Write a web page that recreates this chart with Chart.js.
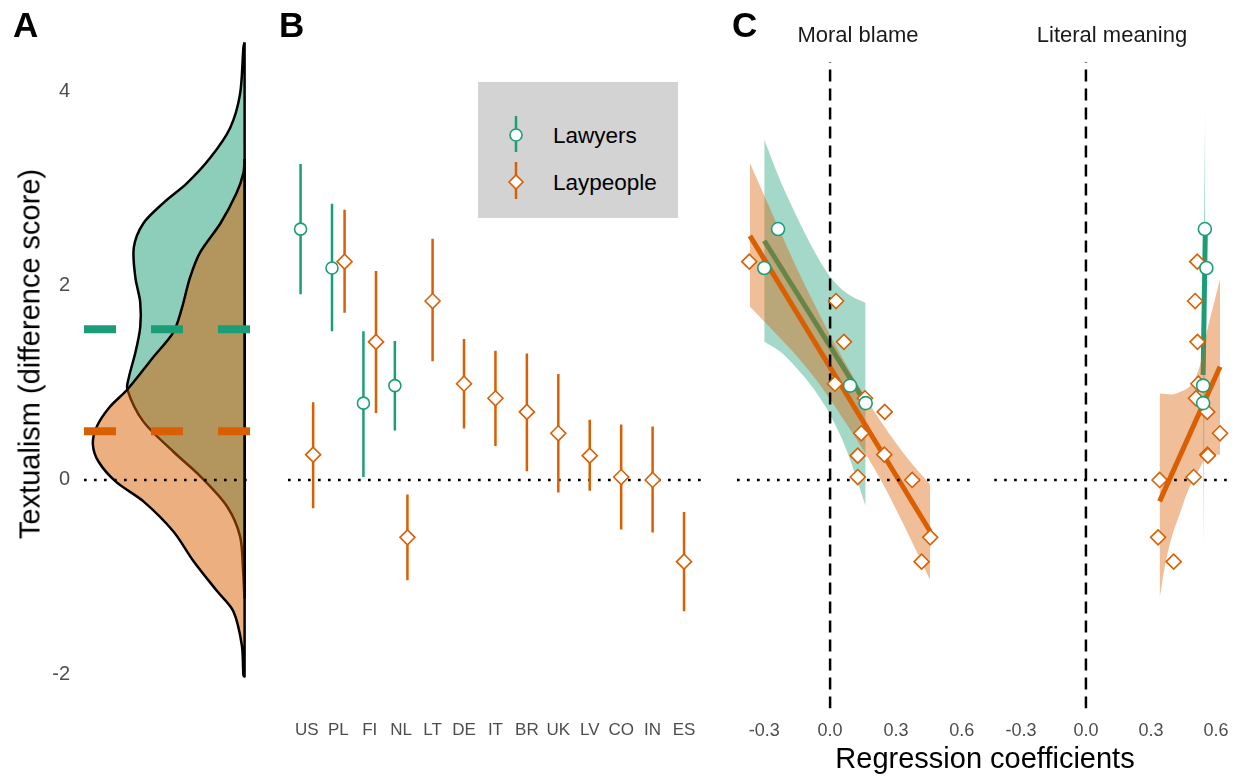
<!DOCTYPE html>
<html lang="en">
<head>
<meta charset="UTF-8">
<title>Textualism</title>
<script src="https://cdn.jsdelivr.net/npm/chart.js"></script>
<style>
  body { margin: 0; background: #fff; font-family: "Liberation Sans", Arial, sans-serif; }
  #wrap { position: relative; width: 1238px; height: 776px; overflow: hidden; }
  canvas { position: absolute; top: 0; }
  .tag { position: absolute; font-weight: bold; font-size: 35px; line-height: 1; color: #000; }
  .txt { position: absolute; line-height: 1; color: #1a1a1a; white-space: nowrap; }
  #legend { position: absolute; left: 478px; top: 82px; width: 200px; height: 136px; background: #d3d3d3; }
</style>
</head>
<body>
<div id="wrap">
  <canvas id="chartA" width="262" height="776" style="left:0"></canvas>
  <canvas id="chartB" width="450" height="776" style="left:262px"></canvas>
  <canvas id="chartC1" width="280" height="776" style="left:715px"></canvas>
  <canvas id="chartC2" width="253" height="776" style="left:985px"></canvas>

  <div class="tag" style="left:13px; top:7px">A</div>
  <div class="tag" style="left:279px; top:7px">B</div>
  <div class="tag" style="left:732px; top:7px">C</div>

  <div class="txt" style="left:30px; top:354px; font-size:29px; color:#000; transform:translate(-50%,-50%) rotate(-90deg)">Textualism (difference score)</div>
  <div class="txt" style="left:858px; top:24px; font-size:22px; transform:translateX(-50%)">Moral blame</div>
  <div class="txt" style="left:1112px; top:24px; font-size:22px; transform:translateX(-50%)">Literal meaning</div>
  <div class="txt" style="left:985px; top:744px; font-size:29px; color:#000; transform:translateX(-50%)">Regression coefficients</div>

  <div id="legend">
    <svg width="200" height="136" style="position:absolute;left:0;top:0">
      <line x1="38" y1="34" x2="38" y2="70" stroke="#1b9e77" stroke-width="2.5"/>
      <circle cx="38" cy="53" r="6" fill="#fff" stroke="#1b9e77" stroke-width="1.6"/>
      <line x1="38" y1="80" x2="38" y2="117" stroke="#d95f02" stroke-width="2.5"/>
      <polygon points="31,100 38,93 45,100 38,107" fill="#fff" stroke="#d95f02" stroke-width="1.6"/>
    </svg>
    <div class="txt" style="left:75px; top:43px; font-size:22.5px; color:#000">Lawyers</div>
    <div class="txt" style="left:75px; top:90px; font-size:22.5px; color:#000">Laypeople</div>
  </div>
</div>

<script>
// ---- data ----
const countries = ['US', 'PL', 'FI', 'NL', 'LT', 'DE', 'IT', 'BR', 'UK', 'LV', 'CO', 'IN', 'ES'];
const yTicks = [-2, 0, 2, 4];
const coefTicks = [-0.3, 0, 0.3, 0.6];

// panel B: country means with intervals
const lawyerCountries = ['US', 'PL', 'FI', 'NL'];
const lawyerMean = [2.58, 2.18, 0.79, 0.97];
const lawyerLo = [1.91, 1.53, 0.03, 0.51];
const lawyerHi = [3.25, 2.84, 1.53, 1.43];

const layMean = [0.26, 2.245, 1.42, -0.59, 1.84, 0.99, 0.84, 0.70, 0.48, 0.25, 0.03, 0.00, -0.84];
const layLo = [-0.29, 1.72, 0.69, -1.03, 1.22, 0.53, 0.35, 0.09, -0.13, -0.11, -0.51, -0.54, -1.35];
const layHi = [0.80, 2.78, 2.15, -0.15, 2.48, 1.45, 1.33, 1.30, 1.09, 0.62, 0.57, 0.55, -0.33];

// panel A: densities (value on y, density width on x)
const lawDensValue = [4.5, 4.45, 3.97, 3.62, 3.31, 3.05, 2.85, 2.64, 2.39, 2.08, 1.83, 1.57, 1.31, 1.06, 0.93, 0.60, 0.29, 0.04, -0.27, -0.58, -0.94, -1.2];
const lawDens = [0, 0.007, 0.028, 0.09, 0.215, 0.36, 0.505, 0.63, 0.69, 0.68, 0.65, 0.65, 0.68, 0.72, 0.73, 0.63, 0.443, 0.277, 0.11, 0.028, 0.009, 0];
const layDensValue = [3.3, 3.16, 2.95, 2.64, 2.34, 2.08, 1.77, 1.52, 1.26, 0.93, 0.75, 0.55, 0.37, 0.19, -0.02, -0.22, -0.53, -0.83, -1.14, -1.35, -1.70, -2.01, -2.02];
const layDens = [0, 0.007, 0.05, 0.15, 0.277, 0.34, 0.39, 0.443, 0.57, 0.73, 0.84, 0.92, 0.945, 0.91, 0.80, 0.63, 0.443, 0.32, 0.173, 0.07, 0.017, 0.007, 0];
const lawyerOverall = 1.55;
const layOverall = 0.50;

// panel C: regression coefficients per country
const blameLawyer = [-0.237, -0.300, 0.162, 0.091];
const literalLawyer = [0.549, 0.556, 0.541, 0.541];
const blameLay = [0.247, -0.368, 0.063, 0.456, 0.027, 0.022, 0.159, 0.249, 0.142, 0.126, 0.126, 0.374, 0.417];
const literalLay = [0.561, 0.514, 0.515, 0.333, 0.504, 0.519, 0.508, 0.560, 0.619, 0.563, 0.497, 0.340, 0.405];

// fitted lines and bands
const blameLawLineX = [-0.300, 0.162], blameLawLineY = [2.46, 0.79];
const blameLawBandX = [-0.300, -0.228, -0.152, -0.076, 0, 0.076, 0.162];
const blameLawBandHi = [3.50, 3.085, 2.71, 2.37, 2.09, 1.92, 1.82];
const blameLawBandLo = [1.42, 1.32, 1.15, 0.94, 0.67, 0.30, -0.27];

const blameLayLineX = [-0.365, 0.456], blameLayLineY = [2.51, -0.53];
const blameLayBandX = [-0.365, -0.25, -0.15, -0.05, 0.05, 0.15, 0.25, 0.35, 0.456];
const blameLayBandHi = [3.26, 2.67, 2.17, 1.71, 1.28, 0.89, 0.54, 0.23, -0.05];
const blameLayBandLo = [1.78, 1.51, 1.27, 0.99, 0.66, 0.31, -0.08, -0.53, -1.03];

const literalLawLineX = [0.541, 0.551], literalLawLineY = [1.08, 2.54];
const literalLawBandX = [0.541, 0.551];
const literalLawBandHi = [1.9, 3.87];
const literalLawBandLo = [-0.70, 1.6];

const literalLayLineX = [0.340, 0.619], literalLayLineY = [-0.22, 1.165];
const literalLayBandX = [0.340, 0.367, 0.397, 0.428, 0.473, 0.504, 0.537, 0.556, 0.595, 0.619];
const literalLayBandHi = [0.89, 0.885, 0.88, 0.90, 0.95, 1.04, 1.27, 1.50, 1.85, 2.07];
const literalLayBandLo = [-1.22, -0.86, -0.58, -0.38, -0.10, 0.03, 0.17, 0.24, 0.26, 0.26];

// ---- styling ----
const GREEN = '#1b9e77', ORANGE = '#d95f02';
const FONT = '"Liberation Sans", Arial, sans-serif';
const Y_MIN = -2.35, Y_MAX_AB = 4.75, Y_MAX_C = 4.30;
const C_MIN = -0.424, C_MAX = 0.66;
const DODGE = 0.2;

Chart.defaults.font.family = FONT;

const fixedTicks = values => scale => { scale.ticks = values.map(v => ({ value: v })); };
const pts = (xs, ys) => xs.map((x, i) => ({ x: x, y: ys[i] }));

function baseOptions(pad, x, y) {
    return {
        responsive: false,
        animation: false,
        events: [],
        layout: { padding: pad },
        plugins: { legend: { display: false }, tooltip: { enabled: false } },
        scales: { x: x, y: y }
    };
}

function hline(x0, x1, y, order) {
    return { data: [{ x: x0, y: y }, { x: x1, y: y }], showLine: true, borderColor: '#000',
             borderWidth: 2.5, borderDash: [2.7, 7.3], pointRadius: 0, order: order };
}

// ---- panel A ----
function densityShape(values, dens, fillColor, order) {
    const data = pts(dens, values);
    data.push({ x: 0, y: values[0] });
    return { data: data, showLine: true, fill: 'shape', backgroundColor: fillColor,
             borderColor: '#000', borderWidth: 2.5, pointRadius: 0, tension: 0.3, order: order };
}
function meanLine(v, color, order) {
    return { data: [{ x: 1.0, y: v }, { x: -0.04, y: v }], showLine: true, borderColor: color,
             borderWidth: 8, borderDash: [32, 35], pointRadius: 0, order: order };
}

new Chart(document.getElementById('chartA'), {
    type: 'scatter',
    data: { datasets: [
        densityShape(lawDensValue, lawDens, 'rgba(27,158,119,0.5)', 6),
        densityShape(layDensValue, layDens, 'rgba(217,95,2,0.5)', 5),
        hline(1.0, -0.04, 0, 3),
        meanLine(lawyerOverall, GREEN, 2),
        meanLine(layOverall, ORANGE, 1)
    ] },
    options: baseOptions({ top: 18.06, bottom: 67.5, left: 0, right: 11 },
        { type: 'linear', reverse: true, min: -0.04, max: 1.0, display: false },
        { type: 'linear', min: Y_MIN, max: Y_MAX_AB,
          afterBuildTicks: fixedTicks(yTicks),
          afterFit: s => { s.width = 84; s.paddingTop = 0; s.paddingBottom = 0; },
          grid: { display: false, drawTicks: false }, border: { display: false },
          ticks: { color: '#4d4d4d', font: { size: 20 }, padding: 14 } })
});

// ---- panel B ----
const xLaw = c => countries.indexOf(c) + 1 - DODGE;
const xLay = c => countries.indexOf(c) + 1 + (lawyerCountries.includes(c) ? DODGE : 0);

const bDatasets = [hline(0.4, 13.6, 0, 10)];
lawyerCountries.forEach((c, i) => {
    bDatasets.push({ data: [{ x: xLaw(c), y: lawyerLo[i] }, { x: xLaw(c), y: lawyerHi[i] }],
        showLine: true, borderColor: GREEN, borderWidth: 2.5, pointRadius: 0, order: 5 });
});
countries.forEach((c, i) => {
    bDatasets.push({ data: [{ x: xLay(c), y: layLo[i] }, { x: xLay(c), y: layHi[i] }],
        showLine: true, borderColor: ORANGE, borderWidth: 2.5, pointRadius: 0, order: 5 });
});
bDatasets.push({
    data: lawyerCountries.map((c, i) => ({ x: xLaw(c), y: lawyerMean[i] })),
    pointStyle: 'circle', pointRadius: 6, pointBorderWidth: 1.6,
    backgroundColor: '#fff', borderColor: GREEN, order: 1
});
bDatasets.push({
    data: countries.map((c, i) => ({ x: xLay(c), y: layMean[i] })),
    pointStyle: 'rectRot', pointRadius: 7.5, pointBorderWidth: 1.6,
    backgroundColor: '#fff', borderColor: ORANGE, order: 2
});

new Chart(document.getElementById('chartB'), {
    type: 'scatter',
    data: { datasets: bDatasets },
    options: baseOptions({ top: 18.06, bottom: 27.5, left: 26, right: 9 },
        { type: 'linear', min: 0.4, max: 13.6,
          afterBuildTicks: fixedTicks(countries.map((c, i) => i + 1)),
          afterFit: s => { s.height = 40; s.paddingLeft = 0; s.paddingRight = 0; },
          grid: { display: false, drawTicks: false }, border: { display: false },
          ticks: { color: '#4d4d4d', font: { size: 17 }, padding: 12, maxRotation: 0, autoSkip: false,
                   callback: v => countries[v - 1] } },
        { type: 'linear', min: Y_MIN, max: Y_MAX_AB, display: false })
});

// ---- panel C ----
function band(xs, hi, lo, color, order) {
    return [
        { data: pts(xs, hi), showLine: true, fill: '+1', backgroundColor: color, borderWidth: 0,
          pointRadius: 0, cubicInterpolationMode: 'monotone', order: order },
        { data: pts(xs, lo), showLine: true, fill: false, borderWidth: 0,
          pointRadius: 0, cubicInterpolationMode: 'monotone', order: order }
    ];
}
function fitLine(xs, ys, color, order) {
    return { data: pts(xs, ys), showLine: true, borderColor: color, borderWidth: 5, pointRadius: 0, order: order };
}

function coefChart(id, pad, lawX, layX, lawLine, layLine, lawBand, layBand) {
    const datasets = [
        hline(C_MIN, C_MAX, 0, 4),
        { data: [{ x: 0, y: Y_MIN }, { x: 0, y: Y_MAX_C }], showLine: true, borderColor: '#000',
          borderWidth: 2.5, borderDash: [12, 7], pointRadius: 0, order: 3 },
        ...band(lawBand[0], lawBand[1], lawBand[2], 'rgba(27,158,119,0.4)', 8),
        fitLine(lawLine[0], lawLine[1], GREEN, 7),
        ...band(layBand[0], layBand[1], layBand[2], 'rgba(217,95,2,0.4)', 6),
        fitLine(layLine[0], layLine[1], ORANGE, 5),
        { data: pts(layX, layMean), pointStyle: 'rectRot', pointRadius: 7.5, pointBorderWidth: 1.6,
          backgroundColor: '#fff', borderColor: ORANGE, order: 2 },
        { data: pts(lawX, lawyerMean), pointStyle: 'circle', pointRadius: 6.5, pointBorderWidth: 1.6,
          backgroundColor: '#fff', borderColor: GREEN, order: 1 }
    ];
    return new Chart(document.getElementById(id), {
        type: 'scatter',
        data: { datasets: datasets },
        options: baseOptions(pad,
            { type: 'linear', min: C_MIN, max: C_MAX,
              afterBuildTicks: fixedTicks(coefTicks),
              afterFit: s => { s.height = 40; s.paddingLeft = 0; s.paddingRight = 0; },
              grid: { display: false, drawTicks: false }, border: { display: false },
              ticks: { color: '#4d4d4d', font: { size: 18 }, padding: 12, maxRotation: 0,
                       callback: v => v.toFixed(1) } },
            { type: 'linear', min: Y_MIN, max: Y_MAX_C, display: false })
    });
}

coefChart('chartC1', { top: 61.8, bottom: 27.5, left: 22, right: 20 },
    blameLawyer, blameLay,
    [blameLawLineX, blameLawLineY], [blameLayLineX, blameLayLineY],
    [blameLawBandX, blameLawBandHi, blameLawBandLo], [blameLayBandX, blameLayBandHi, blameLayBandLo]);

coefChart('chartC2', { top: 61.8, bottom: 27.5, left: 7, right: 5 },
    literalLawyer, literalLay,
    [literalLawLineX, literalLawLineY], [literalLayLineX, literalLayLineY],
    [literalLawBandX, literalLawBandHi, literalLawBandLo], [literalLayBandX, literalLayBandHi, literalLayBandLo]);
</script>
</body>
</html>
